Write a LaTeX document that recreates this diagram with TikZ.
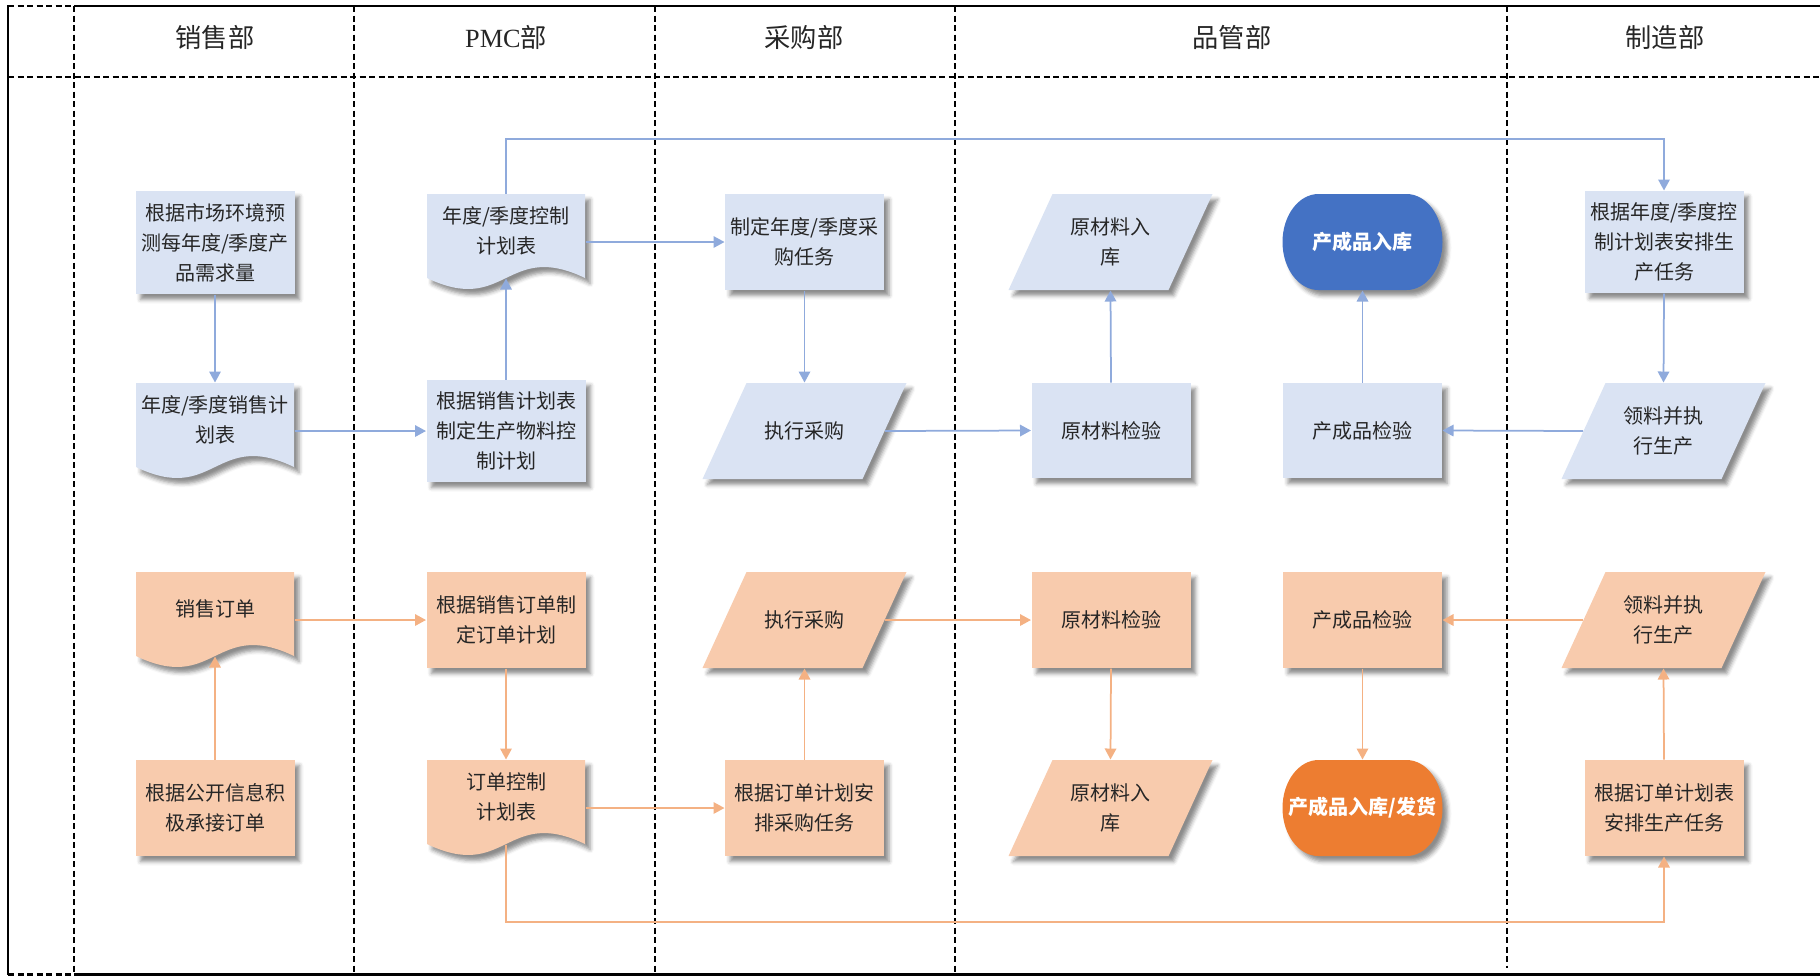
\documentclass[tikz,border=0pt]{standalone}
\usepackage{fontspec}
\setmainfont{Noto Sans CJK SC}
\newfontfamily\lserif{Liberation Serif}
\usetikzlibrary{arrows.meta,shadows.blur,calc}
\definecolor{bfill}{HTML}{DAE3F3}
\definecolor{bline}{HTML}{8FAADC}
\definecolor{ofill}{HTML}{F8CBAD}
\definecolor{oline}{HTML}{F4B183}
\definecolor{dblue}{HTML}{4472C4}
\definecolor{dorange}{HTML}{ED7D31}
\definecolor{txt}{HTML}{262626}

\tikzset{
  shd/.style={blur shadow={shadow xshift=2pt, shadow yshift=-2.2pt, shadow blur radius=1.6pt, shadow opacity=45}},
  lbl/.style={inner sep=0pt, align=center, text=txt, font=\fontsize{8}{12}\selectfont},
  rbox/.style={lbl, shd, minimum width=63.6pt, minimum height=38.4pt},
  bbox/.style={rbox, fill=bfill},
  obox/.style={rbox, fill=ofill},
  tnode/.style={lbl, minimum width=64pt, minimum height=38.4pt},
  dnode/.style={lbl, minimum width=63.2pt, minimum height=29.2pt},
  wbold/.style={text=white, font=\fontsize{8}{12}\selectfont\bfseries},
  tipA/.tip={Triangle[length=4.4pt,width=4.6pt]},
  bcon/.style={draw=bline, line width=0.7pt, -tipA},
  ocon/.style={draw=oline, line width=0.7pt, -tipA},
  lane/.style={dash pattern=on 2.4pt off 1.4pt, line width=0.6pt},
  hdr/.style={font=\fontsize{10.5}{12}\selectfont, text=txt, inner sep=0pt},
}

% document shape: centre x, top y, fill
\newcommand\docshape[3]{%
  \fill[#3, shd] (#1-79,#2) -- (#1+79,#2) -- (#1+79,#2+84)
    .. controls (#1,#2+46) and (#1,#2+122) .. (#1-79,#2+84) -- cycle;}
% parallelogram: centre x, centre y, fill
\newcommand\parashape[3]{%
  \fill[#3, shd] (#1-58,#2-48) -- (#1+102,#2-48) -- (#1+58,#2+48) -- (#1-102,#2+48) -- cycle;}
% terminator: centre x, centre y, fill
\newcommand\stadium[3]{%
  \fill[#3, shd] (#1-44,#2-48) -- (#1+44,#2-48)
    arc[start angle=90, end angle=-90, x radius=14.4pt, y radius=19.2pt]
    -- (#1-44,#2+48)
    arc[start angle=270, end angle=90, x radius=14.4pt, y radius=19.2pt] -- cycle;}

\begin{document}
\begin{tikzpicture}[x=0.4pt,y=-0.4pt]
\useasboundingbox (0,0) rectangle (1820,976);

% frame and lanes
\draw[line width=0.8pt] (74,6) -- (1820,6);
\draw[lane, line width=0.9pt] (8,6) -- (74,6);
\draw[line width=0.8pt] (8,5) -- (8,975);
\draw[line width=1.2pt] (74,974) -- (1820,974);
\draw[lane, line width=1.2pt] (8,974) -- (74,974);
\draw[lane] (8,77) -- (1820,77);
\draw[lane] (74,6) -- (74,974);
\draw[lane] (354,6) -- (354,972);
\draw[lane] (655,6) -- (655,972);
\draw[lane] (955,6) -- (955,972);
\draw[lane] (1507,6) -- (1507,968);

% headers
\node[hdr] (hA) at (215,37) {销售部};
\node[hdr] (hB) at (506,37) {{\lserif PMC}部};
\node[hdr] (hC) at (804,37) {采购部};
\node[hdr] (hD) at (1232,37) {品管部};
\node[hdr] (hE) at (1665,37) {制造部};

\coordinate (toprow) at (0,139);
\coordinate (botrow) at (0,922);

% row 1
\node[bbox, minimum height=41.2pt] (A1) at (215,242.5) {根据市场环境预\\测每年度/季度产\\品需求量};
\docshape{506}{194}{bfill}
\node[dnode] (B1) at (506,230.5) {年度/季度控制\\计划表};
\node[bbox] (C1) at (804.5,242) {制定年度/季度采\\购任务};
\parashape{1110.5}{242}{bfill}
\node[tnode] (D1) at (1110.5,242) {原材料入\\库};
\stadium{1362.5}{242}{dblue}
\node[tnode, wbold] (E1) at (1362.5,242) {产成品入库};
\node[bbox, minimum height=40.8pt] (F1) at (1664,242) {根据年度/季度控\\制计划表安排生\\产任务};

% row 2
\docshape{215}{383}{bfill}
\node[dnode] (A2) at (215,419.5) {年度/季度销售计\\划表};
\node[bbox, minimum height=40.8pt] (B2) at (506,431) {根据销售计划表\\制定生产物料控\\制计划};
\parashape{804.5}{431}{bfill}
\node[tnode] (C2) at (804.5,431) {执行采购};
\node[bbox, minimum height=38pt] (D2) at (1111,430.5) {原材料检验};
\node[bbox, minimum height=38pt] (E2) at (1362.5,430.5) {产成品检验};
\parashape{1663.5}{431}{bfill}
\node[tnode] (F2) at (1663.5,431) {领料并执\\行生产};

% row 3
\docshape{215}{572}{ofill}
\node[dnode] (A3) at (215,608.5) {销售订单};
\node[obox] (B3) at (506,620) {根据销售订单制\\定订单计划};
\parashape{804.5}{620}{ofill}
\node[tnode] (C3) at (804.5,620) {执行采购};
\node[obox] (D3) at (1111,620) {原材料检验};
\node[obox] (E3) at (1362.5,620) {产成品检验};
\parashape{1663.5}{620}{ofill}
\node[tnode] (F3) at (1663.5,620) {领料并执\\行生产};

% row 4
\node[obox] (A4) at (215,808) {根据公开信息积\\极承接订单};
\docshape{506}{760}{ofill}
\node[dnode] (B4) at (506,796.5) {订单控制\\计划表};
\node[obox] (C4) at (804.5,808) {根据订单计划安\\排采购任务};
\parashape{1110.5}{808}{ofill}
\node[tnode] (D4) at (1110.5,808) {原材料入\\库};
\stadium{1362.5}{808}{dorange}
\node[tnode, wbold] (E4) at (1362.5,808) {产成品入库/发货};
\node[obox] (F4) at (1664,808) {根据订单计划表\\安排生产任务};

% blue connectors
\draw[bcon] (A1.south) -- (A2.north);
\draw[bcon] (A2.east |- B2.west) -- (B2.west);
\draw[bcon] (B2.north) -- ([yshift=-4.4pt]B1.south);
\draw[bcon] (B1.east |- C1.west) -- (C1.west);
\draw[bcon] (B1.north) -- (B1.north |- toprow) -| (F1.north);
\draw[bcon] (C1.south) -- (C2.north);
\draw[bcon] (C2.east) -- (D2.west);
\draw[bcon] (D2.north) -- (D1.south);
\draw[bcon] (E2.north) -- (E1.south);
\draw[bcon] (F1.south) -- (F2.north);
\draw[bcon] (F2.west) -- (E2.east);

% orange connectors
\draw[ocon] (A3.east |- B3.west) -- (B3.west);
\draw[ocon] (A4.north) -- ([yshift=-4.4pt]A3.south);
\draw[ocon] (B3.south) -- (B4.north);
\draw[ocon] (B4.east |- C4.west) -- (C4.west);
\draw[ocon] ([yshift=-4.4pt]B4.south) -- (B4.south |- botrow) -| (F4.south);
\draw[ocon] (C4.north) -- (C3.south);
\draw[ocon] (C3.east) -- (D3.west);
\draw[ocon] (D3.south) -- (D4.north);
\draw[ocon] (E3.south) -- (E4.north);
\draw[ocon] (F3.west) -- (E3.east);
\draw[ocon] (F4.north) -- (F3.south);
\end{tikzpicture}
\end{document}
